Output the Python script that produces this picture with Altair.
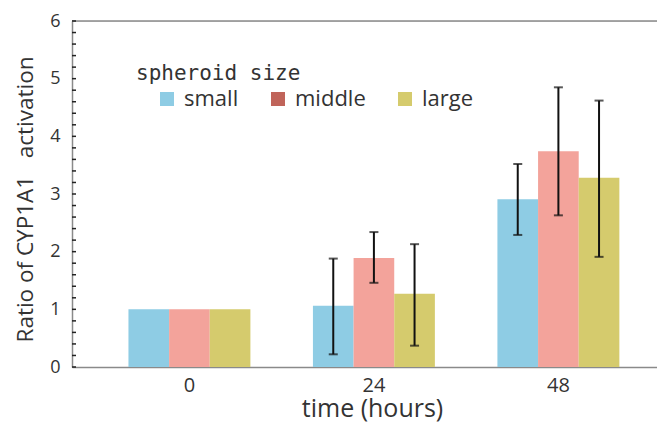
import altair as alt
import pandas as pd

times = ["0", "24", "48"]
sizes = ["small", "middle", "large"]
mean_small = [1.0, 1.06, 2.91]
mean_middle = [1.0, 1.89, 3.74]
mean_large = [1.0, 1.27, 3.28]
low_small = [None, 0.22, 2.29]
high_small = [None, 1.88, 3.52]
low_middle = [None, 1.46, 2.63]
high_middle = [None, 2.34, 4.85]
low_large = [None, 0.37, 1.91]
high_large = [None, 2.13, 4.62]
bar_colors = ["#8ECCE4", "#F3A39B", "#D5CB6D"]
legend_colors = ["#8ECCE4", "#C0645A", "#D5CB6D"]
y_ticks = [0, 1, 2, 3, 4, 5, 6]
minor_ticks = [i / 5 for i in range(31)]

rows = []
for s, m, lo, hi in zip(
    sizes,
    [mean_small, mean_middle, mean_large],
    [low_small, low_middle, low_large],
    [high_small, high_middle, high_large],
):
    for t, mv, l, h in zip(times, m, lo, hi):
        rows.append({"time": t, "size": s, "key": s, "mean": mv, "lower": l, "upper": h})
df = pd.DataFrame(rows)

FONT = "Open Sans"

xscale = alt.Scale(domain=times, paddingInner=0.339, paddingOuter=0.255, align=0.6)
xax = alt.Axis(
    title="time (hours)", labelAngle=0, ticks=False, labelPadding=8,
    labelFontSize=20, titleFontSize=25, titleFontWeight="normal",
    domainColor="#8a8a8a", domainWidth=1.5, labelColor="#333", titleColor="#333",
    labelFont=FONT, titleFont=FONT, titleY=29, titleX=300, titleAnchor="middle",
)
yscale = alt.Scale(domain=[0, 6], nice=False)
yax = alt.Axis(
    title="Ratio of CYP1A1\u00a0\u00a0\u00a0activation", values=y_ticks, format="d",
    ticks=False, grid=False,
    labelPadding=12, labelFontSize=18, titleFontSize=22.5, titleFontWeight="normal",
    domainColor="#8a8a8a", domainWidth=1.5, labelColor="#333", titleColor="#333",
    labelFont=FONT, titleFont=FONT, titleX=-40, titleY=178, titleAnchor="middle",
    titleBaseline="alphabetic",
)

bars = alt.Chart(df).mark_bar().encode(
    x=alt.X("time:N", scale=xscale, axis=xax, sort=times),
    xOffset=alt.XOffset("size:N", sort=sizes, scale=alt.Scale(paddingInner=0, paddingOuter=0)),
    y=alt.Y("mean:Q", scale=yscale, axis=yax),
    color=alt.Color("size:N", sort=sizes, scale=alt.Scale(range=bar_colors), legend=None),
)

legend_layer = alt.Chart(df).mark_point(filled=True, size=0).encode(
    x=alt.X("time:N", sort=times),
    y=alt.Y("mean:Q"),
    fill=alt.Fill(
        "key:N",
        scale=alt.Scale(domain=sizes, range=legend_colors),
        legend=alt.Legend(
            title="spheroid size", orient="none", legendX=64, legendY=42,
            direction="horizontal", titleFont="DejaVu Sans Mono", titleFontSize=21,
            titleFontWeight="normal", titleColor="#333", labelFont=FONT, labelFontSize=22,
            labelColor="#333", symbolType="square", symbolSize=196, symbolOpacity=1,
            symbolStrokeWidth=0, symbolOffset=20, labelOffset=6, columnPadding=8,
            titlePadding=4, padding=0,
        ),
    ),
)

err = df.dropna(subset=["lower"])
rules = alt.Chart(err).mark_rule(color="#111", strokeWidth=2).encode(
    x=alt.X("time:N", sort=times),
    xOffset=alt.XOffset("size:N", sort=sizes),
    y="lower:Q",
    y2="upper:Q",
)
cap_lo = alt.Chart(err).mark_tick(color="#111", thickness=2, size=9, orient="horizontal").encode(
    x=alt.X("time:N", sort=times),
    xOffset=alt.XOffset("size:N", sort=sizes),
    y="lower:Q",
)
cap_hi = alt.Chart(err).mark_tick(color="#111", thickness=2, size=9, orient="horizontal").encode(
    x=alt.X("time:N", sort=times),
    xOffset=alt.XOffset("size:N", sort=sizes),
    y="upper:Q",
)

top_line = alt.Chart(pd.DataFrame({"v": [6]})).mark_rule(color="#8a8a8a", strokeWidth=1.5).encode(
    y="v:Q"
)

minor = alt.Chart(pd.DataFrame({"v": minor_ticks})).mark_rule(color="#222", strokeWidth=1.5).encode(
    y="v:Q", x=alt.value(0), x2=alt.value(4)
)

chart = alt.layer(bars, legend_layer, rules, cap_lo, cap_hi, top_line, minor).resolve_scale(
    color="independent", fill="independent"
).properties(
    width=585, height=346,
    padding={"left": 64, "top": 13, "right": 0, "bottom": 57},
    autosize=alt.AutoSizeParams(type="none"),
).configure_view(stroke=None).configure(background="white")

chart.save("out.html", embed_options={"renderer": "svg", "actions": False})
